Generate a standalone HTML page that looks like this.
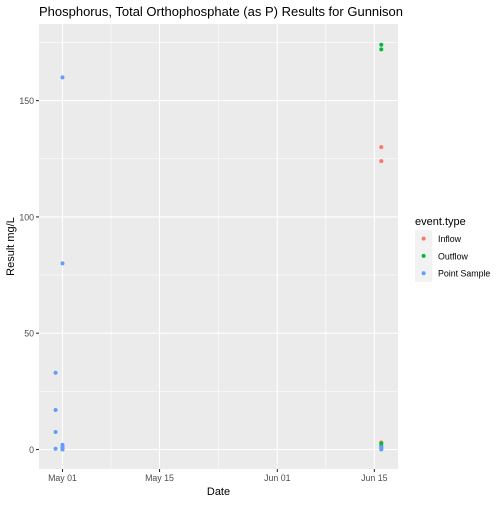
<!DOCTYPE html>
<html><head><style>
body{margin:0;background:#fff;font-family:"Liberation Sans",sans-serif}
</style></head><body>
<svg id="c" width="504" height="504" xmlns="http://www.w3.org/2000/svg"></svg>
<script>
const categories=["Inflow","Outflow","Point Sample"];
const colors=["#F8766D","#00BA38","#619CFF"];
// days relative to May 01
const inflowDays=[46,46,46];
const inflowVals=[130,124,3];
const outflowDays=[46,46,46,46];
const outflowVals=[174,172,2.5,1.5];
const pointDays=[-1,-1,-1,-1,0,0,0,0,0,0,46,46,46];
const pointVals=[33,17,7.5,0.3,160,80,2,1,0.5,0,1,0.5,0];
const yTicks=[0,50,100,150];
const xTicks=[0,14,31,45];
const xTickLabels=["May 01","May 15","Jun 01","Jun 15"];

const svg=document.getElementById('c');
const NS="http://www.w3.org/2000/svg";
const L=39,R=398,T=24,B=469;
const x=d=>62.5+d*6.93;
const y=v=>449.5-v*2.326;
function mk(t,a,p){const e=document.createElementNS(NS,t);for(const k in a)e.setAttribute(k,a[k]);(p||svg).appendChild(e);return e;}
const panel=mk('rect',{x:L,y:T,width:R-L,height:B-T,fill:'#EBEBEB'});


for(let i=0;i<yTicks.length-1;i++){const v=(yTicks[i]+yTicks[i+1])/2;const g=mk('line',{x1:L,x2:R,y1:y(v),y2:y(v),stroke:'#fff','stroke-width':0.55});}
{const g=mk('line',{x1:L,x2:R,y1:y(175),y2:y(175),stroke:'#fff','stroke-width':0.55});}
for(let i=0;i<xTicks.length-1;i++){const d=(xTicks[i]+xTicks[i+1])/2;const g=mk('line',{x1:x(d),x2:x(d),y1:T,y2:B,stroke:'#fff','stroke-width':0.55});}
yTicks.forEach(v=>{
 const g=mk('line',{x1:L,x2:R,y1:y(v),y2:y(v),stroke:'#fff','stroke-width':1.1});
 
 const t=mk('line',{x1:L-3,x2:L,y1:y(v),y2:y(v),stroke:'#333','stroke-width':1.1});
 
 const l=mk('text',{x:L-5,y:y(v)+3.5,'text-anchor':'end','font-size':'8.8',fill:'#4D4D4D'});l.textContent=v;
 
});
xTicks.forEach((d,i)=>{
 const g=mk('line',{x1:x(d),x2:x(d),y1:T,y2:B,stroke:'#fff','stroke-width':1.1});
 
 const t=mk('line',{x1:x(d),x2:x(d),y1:B,y2:B+3,stroke:'#333','stroke-width':1.1});
 
 const l=mk('text',{x:x(d),y:B+12,'text-anchor':'middle','font-size':'8.8',fill:'#4D4D4D'});l.textContent=xTickLabels[i];
 
});
const series=[[inflowDays,inflowVals],[outflowDays,outflowVals],[pointDays,pointVals]];
series.forEach((s,k)=>{s[0].forEach((d,i)=>{
 const c=mk('circle',{cx:x(d),cy:y(s[1][i]),r:2,fill:colors[k]});
 
 
});});
const ti=mk('text',{x:L,y:16,'font-size':'13','textLength':'364',fill:'#000'});ti.textContent="Phosphorus, Total Orthophosphate (as P) Results for Gunnison";

const xt=mk('text',{x:(L+R)/2,y:495,'text-anchor':'middle','font-size':'11',fill:'#000'});xt.textContent="Date";

const yt=mk('text',{x:0,y:0,'text-anchor':'middle','font-size':'11',fill:'#000',transform:`translate(14,${(T+B)/2}) rotate(-90)`});yt.textContent="Result mg/L";

const lt=mk('text',{x:415,y:225,'font-size':'11',fill:'#000'});lt.textContent="event.type";

categories.forEach((c,i)=>{
 const ky=230+i*17.3;
 const kb=mk('rect',{x:415,y:ky,width:17.3,height:17.3,fill:'#F2F2F2'});
 
 const kc=mk('circle',{cx:423.6,cy:ky+8.6,r:2,fill:colors[i]});
 
 const kt=mk('text',{x:438,y:ky+12,'font-size':'8.8',fill:'#000'});kt.textContent=c;
 
});
</script>
</body></html>
